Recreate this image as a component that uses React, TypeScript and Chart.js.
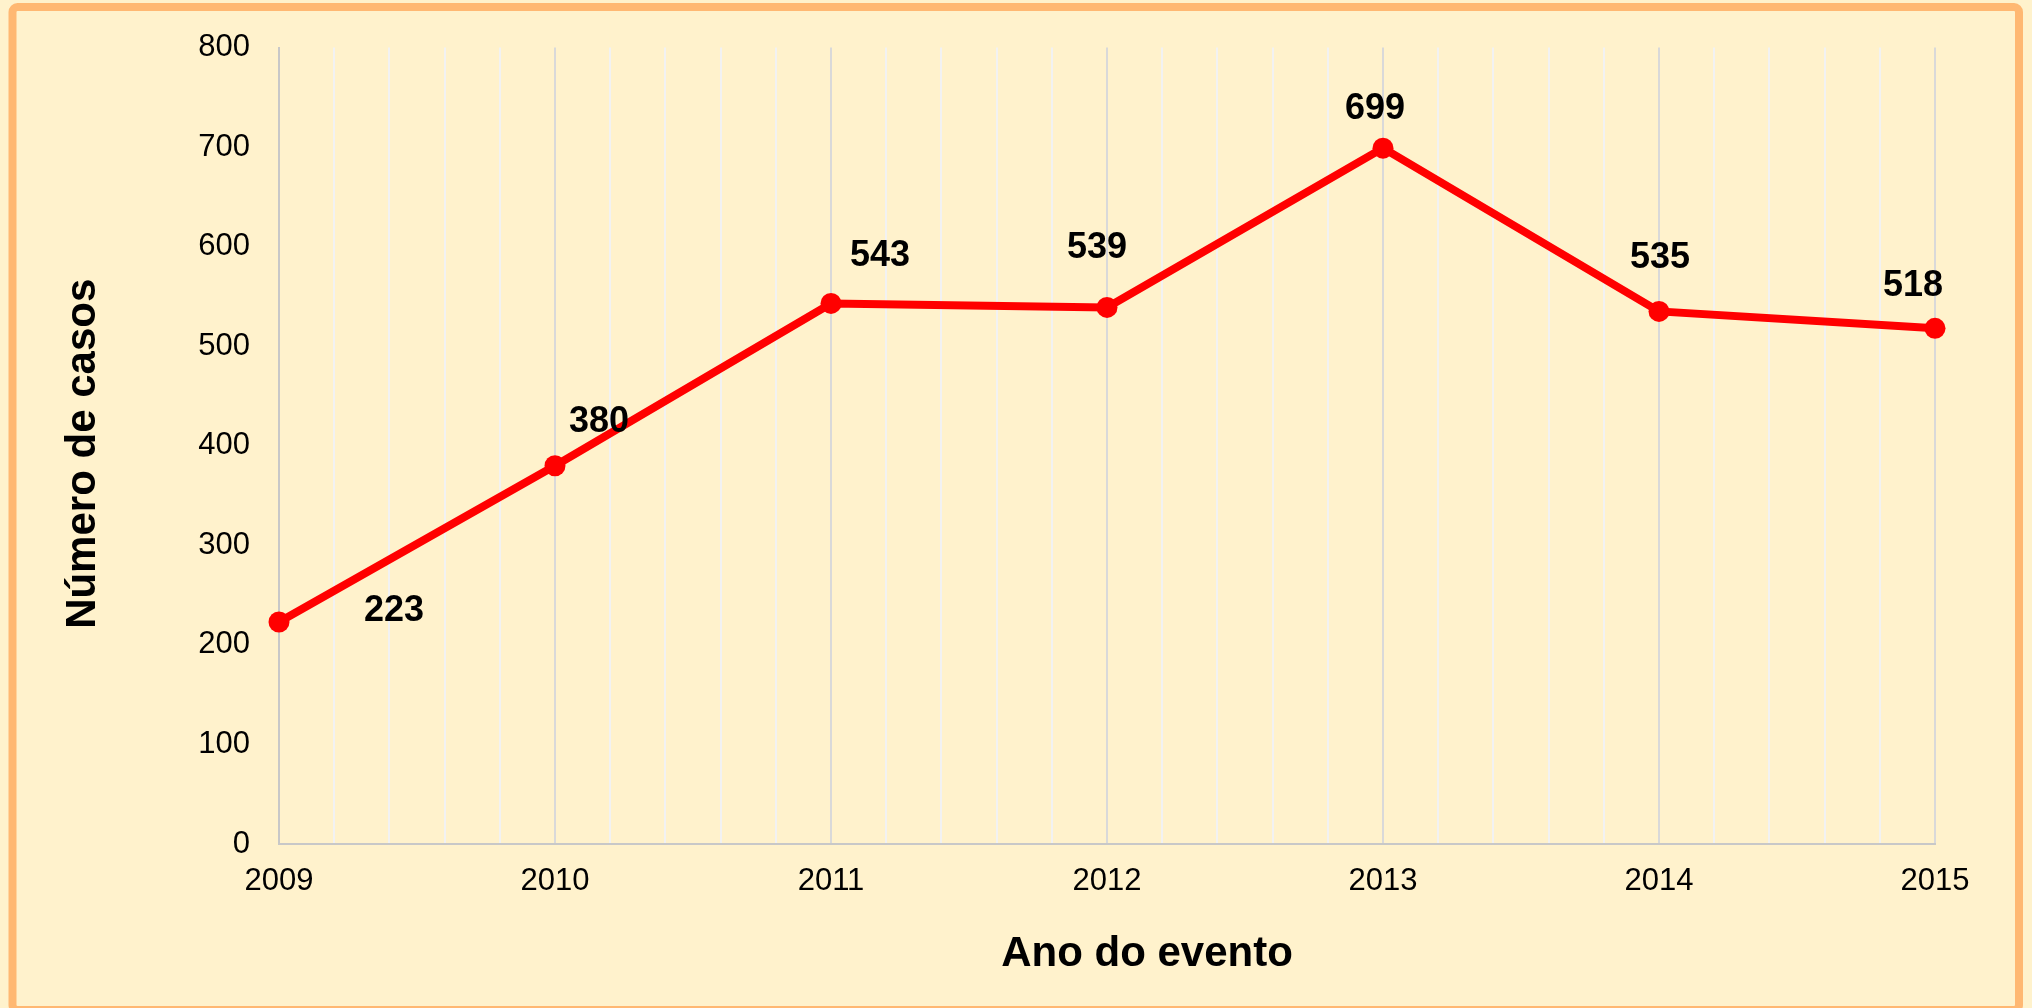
import React, { useEffect, useRef } from 'react';
import { Chart, registerables } from 'chart.js';

Chart.register(...registerables);

// ---- data ----
const years = [2009, 2010, 2011, 2012, 2013, 2014, 2015];
const cases = [223, 380, 543, 539, 699, 535, 518];
const yMin = 0;
const yMax = 800;
const yStep = 100;
const xTitle = 'Ano do evento';
const yTitle = 'Número de casos';

// ---- label placement (pixels, relative to each point) ----
const labelDx = [115, 44, 49, -10, -8, 1, -22];
const labelDy = [-11, -44, -47, -59, -39, -53, -42];

const FONT = "'Liberation Sans', Arial, Helvetica, sans-serif";
const W = 2032;
const H = 1008;

const isWhole = (v: number) => Math.abs(v - Math.round(v)) < 1e-6;

const framePlugin = {
  id: 'frame',
  beforeDraw(chart: any) {
    const ctx = chart.ctx;
    ctx.save();
    ctx.fillStyle = '#FFF2CC';
    ctx.fillRect(0, 0, W, H);
    ctx.strokeStyle = '#FFB872';
    ctx.lineWidth = 8;
    ctx.beginPath();
    if ((ctx as any).roundRect) {
      (ctx as any).roundRect(12.5, 7, 2006.5, 1003, 5);
    } else {
      ctx.rect(12.5, 7, 2006.5, 1003);
    }
    ctx.stroke();
    ctx.restore();
  },
};

const labelsPlugin = {
  id: 'valueLabels',
  afterDatasetsDraw(chart: any) {
    const ctx = chart.ctx;
    const meta = chart.getDatasetMeta(0);
    ctx.save();
    ctx.font = `bold 36px ${FONT}`;
    ctx.fillStyle = '#000000';
    ctx.textAlign = 'center';
    ctx.textBaseline = 'middle';
    meta.data.forEach((pt: any, i: number) => {
      ctx.fillText(String(cases[i]), pt.x + labelDx[i], pt.y + labelDy[i]);
    });
    ctx.restore();
  },
};

const titlesPlugin = {
  id: 'axisTitles',
  afterDraw(chart: any) {
    const ctx = chart.ctx;
    const area = chart.chartArea;
    ctx.save();
    ctx.font = `bold 42px ${FONT}`;
    ctx.fillStyle = '#000000';
    ctx.textAlign = 'center';
    ctx.textBaseline = 'middle';
    // x title
    ctx.fillText(xTitle, (area.left + area.right) / 2 + 40, 954);
    // y title
    ctx.translate(83, (area.top + area.bottom) / 2 + 8);
    ctx.rotate(-Math.PI / 2);
    ctx.fillText(yTitle, 0, 0);
    ctx.restore();
  },
};

export default function App() {
  const canvasRef = useRef<HTMLCanvasElement | null>(null);

  useEffect(() => {
    document.body.style.margin = '0';
    const canvas = canvasRef.current;
    if (!canvas) return;
    const chart = new Chart(canvas, {
      type: 'line',
      data: {
        datasets: [
          {
            label: yTitle,
            data: years.map((y, i) => ({ x: y, y: cases[i] })),
            borderColor: '#FF0000',
            backgroundColor: '#FF0000',
            borderWidth: 8,
            pointRadius: 10.5,
            pointHoverRadius: 10.5,
            pointBackgroundColor: '#FF0000',
            pointBorderColor: '#FF0000',
            pointBorderWidth: 0,
            tension: 0,
            fill: false,
            clip: false as any,
          },
        ],
      },
      options: {
        animation: false,
        responsive: false,
        maintainAspectRatio: false,
        events: [],
        layout: { padding: { left: 0, top: 47, right: 97, bottom: 0 } },
        plugins: {
          legend: { display: false },
          title: { display: false },
          tooltip: { enabled: false },
        },
        scales: {
          x: {
            type: 'linear',
            min: years[0],
            max: years[years.length - 1],
            afterFit(scale: any) {
              scale.height = 164;
            },
            ticks: {
              stepSize: 0.2,
              autoSkip: false,
              maxRotation: 0,
              minRotation: 0,
              padding: 19,
              color: '#000000',
              font: { family: FONT, size: 31 },
              callback: (v: any) => (isWhole(Number(v)) ? String(Math.round(Number(v))) : ''),
            },
            grid: {
              display: true,
              drawTicks: false,
              lineWidth: 2,
              color: (ctx: any) =>
                ctx.tick && isWhole(ctx.tick.value) ? '#D9D9D9' : '#F2F2F2',
            },
            border: { display: true, color: '#C8C8C8', width: 2 },
          },
          y: {
            type: 'linear',
            min: yMin,
            max: yMax,
            afterFit(scale: any) {
              scale.width = 279;
            },
            ticks: {
              stepSize: yStep,
              padding: 29,
              color: '#000000',
              font: { family: FONT, size: 31 },
            },
            grid: { display: false, drawTicks: false },
            border: { display: true, color: '#C8C8C8', width: 2 },
          },
        },
      },
      plugins: [framePlugin, labelsPlugin, titlesPlugin],
    });
    return () => chart.destroy();
  }, []);

  return (
    <div style={{ position: 'fixed', left: 0, top: 0, width: W, height: H }}>
      <canvas ref={canvasRef} width={W} height={H} style={{ display: 'block', width: W, height: H }} />
    </div>
  );
}
